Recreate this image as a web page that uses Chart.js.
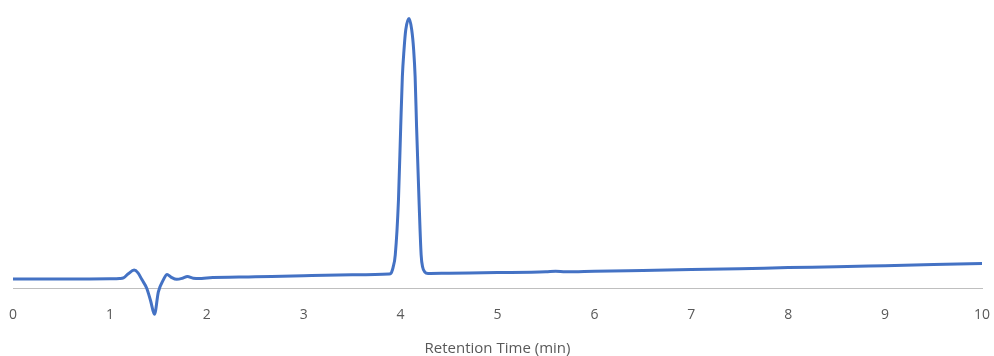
<!DOCTYPE html>
<html>
<head>
<meta charset="utf-8">
<script src="https://cdn.jsdelivr.net/npm/chart.js@4.4.1/dist/chart.umd.min.js"></script>
<style>
  html, body { margin: 0; padding: 0; background: #fff; }
  #wrap { width: 994px; height: 356px; }
</style>
</head>
<body>
<div id="wrap"><canvas id="chrom"></canvas></div>
<script>
// retention time (min) and detector signal
const times = [
  0, 0.5, 1.0, 1.1, 1.14, 1.19, 1.25, 1.29, 1.33, 1.38, 1.42, 1.46, 1.50, 1.55, 1.59,
  1.63, 1.69, 1.75, 1.80, 1.86, 1.93, 2.0, 2.5, 3.0, 3.5, 3.88, 3.90,
  3.908, 3.922, 3.945, 3.978, 4.001, 4.018, 4.035, 4.053, 4.087,
  4.115, 4.135, 4.150, 4.165, 4.190, 4.212, 4.228, 4.250, 4.283,
  4.5, 5.0, 5.5, 5.6, 5.7, 6.0, 6.5, 7.0, 7.5, 8.0, 8.5, 9.0, 9.5, 10.0
];
const signal = [
  3.3, 3.3, 3.4, 3.5, 3.7, 5.2, 6.5, 5.5, 3.1, 0.0, -4.5, -9.4, -1.3, 2.9, 4.9,
  4.0, 3.2, 3.6, 4.2, 3.6, 3.5, 3.7, 4.1, 4.5, 4.8, 5.1, 5.3,
  5.8, 7.4, 12.0, 31.7, 57.9, 75.9, 85.6, 92.8, 96.9,
  92.8, 85.6, 75.9, 57.9, 31.7, 12.0, 7.5, 5.8, 5.3,
  5.4, 5.6, 5.9, 6.1, 5.9, 6.1, 6.4, 6.7, 7.0, 7.4, 7.7, 8.1, 8.5, 8.9
];
const xTitle = 'Retention Time (min)';

const ctx = document.getElementById('chrom').getContext('2d');

const chrom = new Chart(ctx, {
  type: 'scatter',
  data: {
    datasets: [{
      data: times.map((t, i) => ({ x: t, y: signal[i] })),
      showLine: true,
      borderColor: '#4472C4',
      borderWidth: 3,
      pointRadius: 0,
      cubicInterpolationMode: 'monotone',
      clip: false
    }]
  },
  options: {
    responsive: true,
    maintainAspectRatio: false,
    animation: false,
    layout: { padding: { left: 13, right: 12, top: 10, bottom: -2 } },
    plugins: {
      legend: { display: false },
      tooltip: { enabled: false }
    },
    scales: {
      x: {
        type: 'linear',
        min: 0,
        max: 10,
        afterFit: function(scale) {
          // let the layout padding alone decide where the plot starts and ends
          scale.paddingLeft = 0;
          scale.paddingRight = 0;
        },
        grid: { display: false },
        border: { display: true, color: '#BFBFBF', width: 1 },
        ticks: {
          stepSize: 1,
          padding: 10,
          color: '#595959',
          font: { family: 'Open Sans', size: 14 }
        },
        title: {
          display: true,
          text: xTitle,
          color: '#595959',
          padding: { top: 7, bottom: 0 },
          font: { family: 'Open Sans', size: 15 }
        }
      },
      y: {
        display: false,
        min: 0,
        max: 100
      }
    }
  }
});
</script>
</body>
</html>
